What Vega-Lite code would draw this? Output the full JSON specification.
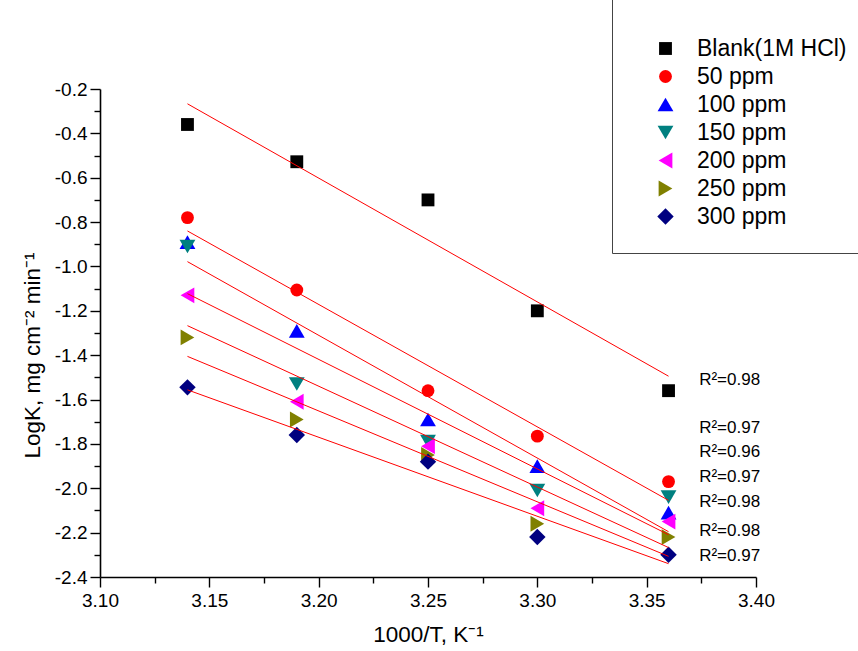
{
  "$schema": "https://vega.github.io/schema/vega-lite/v6.json",
  "width": 656,
  "height": 488,
  "autosize": {"type": "none"},
  "padding": {"left": 100, "top": 89, "right": 102, "bottom": 74},
  "background": "white",
  "config": {
    "view": {"stroke": null},
    "font": "Liberation Sans",
    "axis": {"grid": false, "domainColor": "black", "domainWidth": 1.6, "tickColor": "black", "tickWidth": 1.4, "labelColor": "black", "titleColor": "black", "labelFont": "Liberation Sans", "titleFont": "Liberation Sans", "titleFontWeight": "normal", "labelFlush": false, "labelOverlap": false}
  },
  "datasets": {
    "points": [
      {"series": "Blank(1M HCl)", "x": 3.14, "logk": -0.36},
      {"series": "Blank(1M HCl)", "x": 3.19, "logk": -0.528},
      {"series": "Blank(1M HCl)", "x": 3.25, "logk": -0.70},
      {"series": "Blank(1M HCl)", "x": 3.30, "logk": -1.20},
      {"series": "Blank(1M HCl)", "x": 3.36, "logk": -1.56},
      {"series": "50 ppm", "x": 3.14, "logk": -0.78},
      {"series": "50 ppm", "x": 3.19, "logk": -1.106},
      {"series": "50 ppm", "x": 3.25, "logk": -1.56},
      {"series": "50 ppm", "x": 3.30, "logk": -1.765},
      {"series": "50 ppm", "x": 3.36, "logk": -1.97},
      {"series": "100 ppm", "x": 3.14, "logk": -0.89},
      {"series": "100 ppm", "x": 3.19, "logk": -1.29},
      {"series": "100 ppm", "x": 3.25, "logk": -1.69},
      {"series": "100 ppm", "x": 3.30, "logk": -1.90},
      {"series": "100 ppm", "x": 3.36, "logk": -2.11},
      {"series": "150 ppm", "x": 3.14, "logk": -0.91},
      {"series": "150 ppm", "x": 3.19, "logk": -1.53},
      {"series": "150 ppm", "x": 3.25, "logk": -1.79},
      {"series": "150 ppm", "x": 3.30, "logk": -2.01},
      {"series": "150 ppm", "x": 3.36, "logk": -2.04},
      {"series": "200 ppm", "x": 3.14, "logk": -1.13},
      {"series": "200 ppm", "x": 3.19, "logk": -1.61},
      {"series": "200 ppm", "x": 3.25, "logk": -1.81},
      {"series": "200 ppm", "x": 3.30, "logk": -2.09},
      {"series": "200 ppm", "x": 3.36, "logk": -2.15},
      {"series": "250 ppm", "x": 3.14, "logk": -1.32},
      {"series": "250 ppm", "x": 3.19, "logk": -1.69},
      {"series": "250 ppm", "x": 3.25, "logk": -1.85},
      {"series": "250 ppm", "x": 3.30, "logk": -2.16},
      {"series": "250 ppm", "x": 3.36, "logk": -2.22},
      {"series": "300  ppm", "x": 3.14, "logk": -1.545},
      {"series": "300  ppm", "x": 3.19, "logk": -1.76},
      {"series": "300  ppm", "x": 3.25, "logk": -1.88},
      {"series": "300  ppm", "x": 3.30, "logk": -2.22},
      {"series": "300  ppm", "x": 3.36, "logk": -2.30}
    ],
    "labels": [
      {"x": 3.374, "logk": -1.512, "label": "R²=0.98"},
      {"x": 3.374, "logk": -1.729, "label": "R²=0.97"},
      {"x": 3.374, "logk": -1.837, "label": "R²=0.96"},
      {"x": 3.374, "logk": -1.95, "label": "R²=0.97"},
      {"x": 3.374, "logk": -2.063, "label": "R²=0.98"},
      {"x": 3.374, "logk": -2.194, "label": "R²=0.98"},
      {"x": 3.374, "logk": -2.307, "label": "R²=0.97"}
    ]
  },
  "encoding": {
    "x": {
      "field": "x", "type": "quantitative",
      "scale": {"domain": [3.1, 3.4], "nice": false, "zero": false},
      "axis": {
        "title": "1000/T, K⁻¹",
        "titleFontSize": 22.5,
        "titlePadding": 13,
        "labelFontSize": 19,
        "labelPadding": 4,
        "values": [3.1, 3.125, 3.15, 3.175, 3.2, 3.225, 3.25, 3.275, 3.3, 3.325, 3.35, 3.375, 3.4],
        "labelExpr": "abs(datum.value*20 - round(datum.value*20)) < 0.01 ? format(datum.value, '.2f') : ''",
        "tickSize": {"condition": {"test": "abs(datum.value*20 - round(datum.value*20)) < 0.01", "value": 10}, "value": 6}
      }
    },
    "y": {
      "field": "logk", "type": "quantitative",
      "scale": {"domain": [-2.4, -0.2], "nice": false, "zero": false},
      "axis": {
        "title": "LogK, mg cm⁻² min⁻¹",
        "titleFontSize": 22.5,
        "titlePadding": 10,
        "titleY": 266,
        "labelFontSize": 19,
        "labelPadding": 3,
        "values": [-2.4, -2.3, -2.2, -2.1, -2.0, -1.9, -1.8, -1.7, -1.6, -1.5, -1.4, -1.3, -1.2, -1.1, -1.0, -0.9, -0.8, -0.7, -0.6, -0.5, -0.4, -0.3, -0.2],
        "labelExpr": "abs(datum.value*5 - round(datum.value*5)) < 0.01 ? replace(format(datum.value, '.1f'), '−', '-') : ''",
        "tickSize": {"condition": {"test": "abs(datum.value*5 - round(datum.value*5)) < 0.01", "value": 10}, "value": 6}
      }
    }
  },
  "layer": [
    {
      "data": {"name": "points"},
      "mark": {"type": "point", "filled": true, "opacity": 1, "strokeWidth": 0},
      "encoding": {
        "color": {
          "field": "series", "type": "nominal",
          "scale": {"domain": ["Blank(1M HCl)", "50 ppm", "100 ppm", "150 ppm", "200 ppm", "250 ppm", "300  ppm"], "range": ["#000000", "#ff0000", "#0000ff", "#008080", "#ff00ff", "#808000", "#000080"]},
          "legend": {
            "orient": "none", "legendX": 512, "legendY": -92,
            "title": " ", "titleFontSize": 6, "titlePadding": 10,
            "padding": 24, "strokeColor": "#444444", "fillColor": "white",
            "labelFontSize": 23, "labelColor": "black", "labelFont": "Liberation Sans",
            "symbolStrokeWidth": 0, "rowPadding": 4,
            "symbolOffset": 18, "labelOffset": 20, "labelLimit": 300
          }
        },
        "shape": {
          "field": "series", "type": "nominal",
          "scale": {"domain": ["Blank(1M HCl)", "50 ppm", "100 ppm", "150 ppm", "200 ppm", "250 ppm", "300  ppm"], "range": ["square", "circle", "triangle-up", "triangle-down", "triangle-left", "triangle-right", "diamond"]},
          "legend": {
            "orient": "none", "legendX": 512, "legendY": -92,
            "title": " ", "titleFontSize": 6, "titlePadding": 10,
            "padding": 24, "strokeColor": "#444444", "fillColor": "white",
            "labelFontSize": 23, "labelColor": "black", "labelFont": "Liberation Sans",
            "symbolStrokeWidth": 0, "rowPadding": 4,
            "symbolOffset": 18, "labelOffset": 20, "labelLimit": 300
          }
        },
        "size": {
          "field": "series", "type": "ordinal",
          "sort": ["Blank(1M HCl)", "50 ppm", "100 ppm", "150 ppm", "200 ppm", "250 ppm", "300  ppm"],
          "scale": {"type": "ordinal", "domain": ["Blank(1M HCl)", "50 ppm", "100 ppm", "150 ppm", "200 ppm", "250 ppm", "300  ppm"], "range": [165, 165, 250, 250, 250, 250, 270]},
          "legend": null
        }
      }
    },
    {
      "data": {"name": "points"},
      "transform": [{"regression": "logk", "on": "x", "groupby": ["series"]}],
      "mark": {"type": "line", "color": "#ff0000", "strokeWidth": 1},
      "encoding": {"detail": {"field": "series", "type": "nominal"}}
    },
    {
      "data": {"name": "labels"},
      "mark": {"type": "text", "align": "left", "baseline": "middle", "fontSize": 17, "font": "Liberation Sans", "color": "black"},
      "encoding": {"text": {"field": "label", "type": "nominal"}}
    }
  ]
}
